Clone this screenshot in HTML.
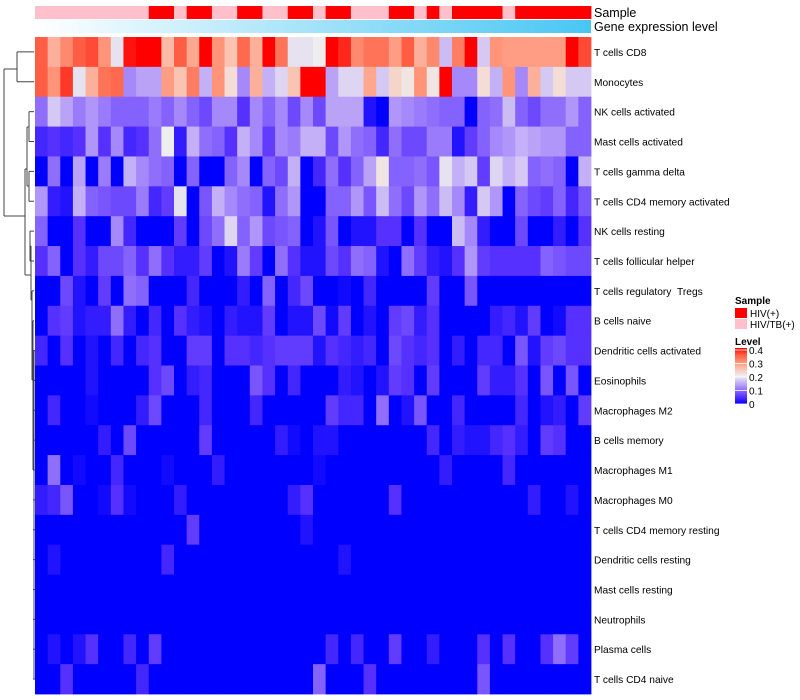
<!DOCTYPE html>
<html><head><meta charset="utf-8"><style>
html,body{margin:0;padding:0;background:#fff;width:800px;height:700px;overflow:hidden}
svg{display:block;font-family:"Liberation Sans",sans-serif}
</style></head><body>
<svg id="chart" width="800" height="700"></svg>
<script>
const rowLabels=["T cells CD8","Monocytes","NK cells activated","Mast cells activated","T cells gamma delta","T cells CD4 memory activated","NK cells resting","T cells follicular helper","T cells regulatory \u00a0Tregs","B cells naive","Dendritic cells activated","Eosinophils","Macrophages M2","B cells memory","Macrophages M1","Macrophages M0","T cells CD4 memory resting","Dendritic cells resting","Mast cells resting","Neutrophils","Plasma cells","T cells CD4 naive"];
const sampleGroups="TTTTTTTTTHHTHHTTHHTTHHTHHTTTHHTHTHHHHTHHHHHH".split("");
const r1=[.35,.27,.31,.35,.36,.3,.19,.39,.4,.4,.26,.35,.28,.4,.3,.25,.34,.27,.4,.33,.19,.19,.2,.4,.38,.31,.33,.33,.29,.35,.27,.31,.16,.32,.4,.17,.3,.29,.29,.29,.29,.29,.4,.36];
const r2=[.35,.3,.37,.19,.27,.33,.34,.12,.14,.14,.29,.25,.32,.15,.3,.22,.12,.27,.15,.18,.25,.4,.4,.14,.18,.18,.28,.17,.23,.21,.3,.21,.4,.12,.12,.22,.15,.3,.12,.27,.17,.22,.17,.17];
const r3=[.1,.17,.14,.11,.13,.11,.09,.09,.09,.11,.09,.12,.09,.07,.12,.12,.05,.12,.09,.12,.07,.12,.07,.14,.14,.14,.02,0,.13,.12,.11,.1,.09,.09,0,.09,.1,.16,.09,.07,.1,.1,.13,.09];
const r4=[.04,.05,.04,.05,.13,.05,.12,.04,.05,.1,.2,.03,.15,.1,.09,.05,.15,.12,.06,.12,.11,.15,.15,.07,.13,.1,.09,.04,.1,.07,.07,.11,.11,.02,.06,.09,.12,.13,.15,.14,.13,.13,.09,.09];
const r5=[0,.1,0,.14,0,.11,0,.15,.12,.1,.09,0,.09,0,0,.09,.12,0,.09,.07,.15,0,.04,.1,.05,.09,.14,.21,.09,.09,.1,.08,.19,.15,.17,.06,.18,.15,.17,.09,.1,.09,0,.15];
const r6=[.13,.03,.02,.15,.09,.08,.07,.07,.11,.04,.06,.19,0,.08,.15,.12,.1,.09,.02,.1,.13,0,0,.09,.09,.13,.08,.16,.1,.07,.13,.1,.16,.12,.03,.17,.13,0,.09,.07,.06,.09,.04,.08];
const r7=[.09,0,0,.05,0,0,.12,.04,0,0,0,.06,0,.07,.1,.18,.09,.13,.07,.08,.09,0,.02,.08,0,.02,.02,.05,.05,0,.05,0,0,.16,.12,.03,0,0,.07,0,0,.03,0,.05];
const r8=[.05,.09,0,.05,.03,.07,.07,.09,.05,.1,.05,.03,.03,.06,0,.02,.11,.06,0,.1,.05,.02,.02,.07,.05,.1,.09,.02,0,.1,.06,.03,.02,.05,.13,.06,.05,.05,.05,.05,.09,.08,.07,.07];
const r9=[0,0,.07,.02,0,.06,0,.1,.09,0,0,0,.04,0,0,0,.03,0,.09,0,.04,.07,0,0,.01,0,.04,0,0,0,0,.06,0,0,.08,0,0,0,0,0,0,0,0,0];
const r10=[0,.05,.06,.02,.03,.03,.1,.03,0,.04,0,.05,.03,.02,0,.03,.02,.02,.06,0,.02,.02,.07,.01,.06,0,.02,0,.06,.07,.03,.05,0,0,0,0,.03,.04,.02,.06,0,.01,.05,.05];
const r11=[.04,0,.05,0,.02,0,.04,0,.04,.05,0,0,.06,.06,0,.05,.05,.04,.05,.06,.06,.06,.02,.05,.04,.03,.04,0,.07,.05,.04,.05,0,.03,0,.04,.04,0,.08,.02,.06,.07,.05,.05];
const r12=[0,0,0,0,.02,0,0,0,0,.05,.07,0,.03,.04,0,0,0,.08,.05,0,.04,0,0,0,.03,.02,0,.02,.06,.05,0,.06,0,0,0,.06,.03,.03,.05,0,.08,0,.08,0];
const r13=[0,.04,0,0,.01,0,0,0,.03,.07,0,0,0,.04,0,0,0,.04,0,0,0,0,0,.06,.04,.04,0,.1,0,.02,.08,0,0,.04,0,0,0,0,.04,0,.02,.03,0,.06];
const r14=[0,0,0,0,0,.03,0,.07,0,0,0,0,0,.06,0,0,0,0,0,.03,.01,0,.02,.02,0,0,0,0,0,0,0,.04,0,.03,.02,.02,.04,.05,.03,0,.06,.05,0,0];
const r15=[0,.1,0,.01,0,0,.04,0,0,0,.01,0,0,0,.03,0,0,0,0,0,0,0,.01,0,0,0,0,0,0,0,0,0,.03,0,0,0,0,.04,0,0,0,0,0,0];
const r16=[.03,.04,.08,0,0,.01,.05,.01,0,0,0,.03,0,0,0,0,0,0,0,0,.03,.05,0,0,0,0,0,0,.05,0,0,0,0,0,0,0,0,0,0,.03,0,0,.02,0];
const r17=[0,0,0,0,0,0,0,0,0,0,0,0,.06,0,0,0,0,0,0,0,0,.02,0,0,0,0,0,0,0,0,0,0,0,0,0,0,0,0,0,0,0,0,0,0];
const r18=[0,.02,0,0,0,0,0,0,0,0,.04,0,0,0,0,0,0,0,0,0,0,0,0,0,.02,0,0,0,0,0,0,0,0,0,0,0,0,0,0,0,0,0,0,0];
const r19=[0,0,0,0,0,0,0,0,0,0,0,0,0,0,0,0,0,0,0,0,0,0,0,0,0,0,0,0,0,0,0,0,0,0,0,0,0,0,0,0,0,0,0,0];
const r20=[0,0,0,0,0,0,0,0,0,0,0,0,0,0,0,0,0,0,0,0,0,0,0,0,0,0,0,0,0,0,0,0,0,0,0,0,0,0,0,0,0,0,0,0];
const r21=[0,.02,0,.02,.05,0,0,.04,0,.06,0,0,0,0,0,0,0,0,0,0,0,0,0,.04,0,.04,0,0,.06,0,0,.03,0,0,0,.05,0,.05,0,0,.05,.1,.06,0];
const r22=[0,0,.05,0,0,0,0,0,.04,0,0,0,0,0,0,0,0,0,0,0,0,0,.09,0,0,0,.05,0,0,0,0,0,0,0,0,.08,0,0,0,0,0,0,0,0];
const values=[r1,r2,r3,r4,r5,r6,r7,r8,r9,r10,r11,r12,r13,r14,r15,r16,r17,r18,r19,r20,r21,r22];
const legendTicks=[0,0.1,0.2,0.3,0.4];

const NS="http://www.w3.org/2000/svg";
const svg=document.getElementById("chart");
function mk(tag,attrs,parent){const e=document.createElementNS(NS,tag);for(const k in attrs)e.setAttribute(k,attrs[k]);(parent||svg).appendChild(e);return e;}
const stops=[[0,[0,0,255]],[0.05,[85,48,255]],[0.1,[144,110,252]],[0.15,[196,176,246]],[0.2,[238,238,238]],[0.25,[250,195,178]],[0.3,[255,148,120]],[0.35,[255,94,68]],[0.4,[255,0,0]]];
function color(v){v=Math.max(0,Math.min(0.4,v));for(let i=1;i<stops.length;i++){if(v<=stops[i][0]){const a=stops[i-1],b=stops[i];const t=(v-a[0])/(b[0]-a[0]);const c=a[1].map((x,j)=>Math.round(x+(b[1][j]-x)*t));return `rgb(${c})`;}}return "rgb(255,0,0)";}
const X0=35,X1=591,Y0=37,Y1=694;
const nC=sampleGroups.length,nR=rowLabels.length;
const cw=(X1-X0)/nC,rh=(Y1-Y0)/nR;
const xPos=i=>X0+i*cw, yPos=j=>Y0+j*rh;

for(let i=0;i<nC;i++){
  const r=mk("rect",{x:xPos(i),y:6,width:cw+0.4,height:13,fill:sampleGroups[i]==="H"?"#FF0000":"#FFC0CB"});
  
  
}
const defs=mk("defs",{});
const lg=mk("linearGradient",{id:"gexp",x1:"0",x2:"1",y1:"0",y2:"0"},defs);
mk("stop",{offset:"0","stop-color":"#FFFFFF"},lg);mk("stop",{offset:"1","stop-color":"#48C6F3"},lg);
const lv=mk("linearGradient",{id:"lvl",x1:"0",x2:"0",y1:"1",y2:"0"},defs);
stops.forEach(s=>mk("stop",{offset:String(s[0]/0.4),"stop-color":color(s[0])},lv));
const ge=mk("rect",{x:X0,y:20,width:X1-X0,height:13,fill:"url(#gexp)"});


const t1=mk("text",{x:594,y:17,"font-size":"12.5",fill:"#000"});t1.textContent="Sample";


const t2=mk("text",{x:594,y:31,"font-size":"12.5",fill:"#000"});t2.textContent="Gene expression level";



for(let j=0;j<nR;j++){
  for(let i=0;i<nC;i++){
    const c=mk("rect",{x:xPos(i),y:yPos(j),width:cw+0.4,height:rh+0.4,fill:color(values[j][i])});
    
    
  }
  const t=mk("text",{x:594,y:yPos(j)+rh/2+4,"font-size":"10.2",fill:"#000"});
  t.textContent=rowLabels[j];
  
  
}
const rc=j=>yPos(j)+rh/2;
const segs=[
 [4,69,4,216],[4,69,17,69],[17,rc(0),17,rc(1)],[17,rc(0),34,rc(0)],[17,rc(1),34,rc(1)],
 [4,216,25,216],[25,169,25,275],
 [25,169,27,169],[27,127,27,186],[27,127,29,127],[29,rc(2),29,rc(3)],[29,rc(2),34,rc(2)],[29,rc(3),34,rc(3)],
 [27,186,29,186],[29,rc(4),29,rc(5)],[29,rc(4),34,rc(4)],[29,rc(5),34,rc(5)],
 [25,275,31,275],[31,246,31,300],[31,246,30,246],[30,rc(6),30,rc(7)],[30,rc(6),34,rc(6)],[30,rc(7),34,rc(7)],
 [31,300,32,300],[32,rc(8),32,380],[32,rc(8),34,rc(8)],[32,380,33,380],[33,rc(9),33,470],[33,rc(9),34,rc(9)],
 [33,470,34,470],[34,rc(10),34,rc(21)]
];
segs.forEach(s=>{const l=mk("line",{x1:s[0],y1:s[1],x2:s[2],y2:s[3],stroke:"#444","stroke-width":"1"});
 
 });
for(let j=10;j<nR;j++){const l=mk("line",{x1:33,y1:rc(j),x2:35,y2:rc(j),stroke:"#444","stroke-width":"1"});
 
 }

const lgT=mk("text",{x:735,y:304,"font-size":"10","font-weight":"bold"});lgT.textContent="Sample";


const s1=mk("rect",{x:735,y:308,width:12,height:10,fill:"#FF0000"});


const s1t=mk("text",{x:750,y:317,"font-size":"10"});s1t.textContent="HIV(+)";


const s2=mk("rect",{x:735,y:319,width:12,height:10,fill:"#FFC0CB"});


const s2t=mk("text",{x:750,y:328,"font-size":"10"});s2t.textContent="HIV/TB(+)";


const lvT=mk("text",{x:735,y:345,"font-size":"10","font-weight":"bold"});lvT.textContent="Level";


const bar=mk("rect",{x:735,y:348,width:12,height:56,fill:"url(#lvl)"});


legendTicks.forEach(v=>{const y=404-v/0.4*54;
 const tl=mk("line",{x1:735,y1:y,x2:747,y2:y,stroke:"#fff","stroke-width":"0.8"});
 
 
 const tt=mk("text",{x:749,y:y+4,"font-size":"10"});tt.textContent=String(v);
 
 });
</script>
</body></html>
